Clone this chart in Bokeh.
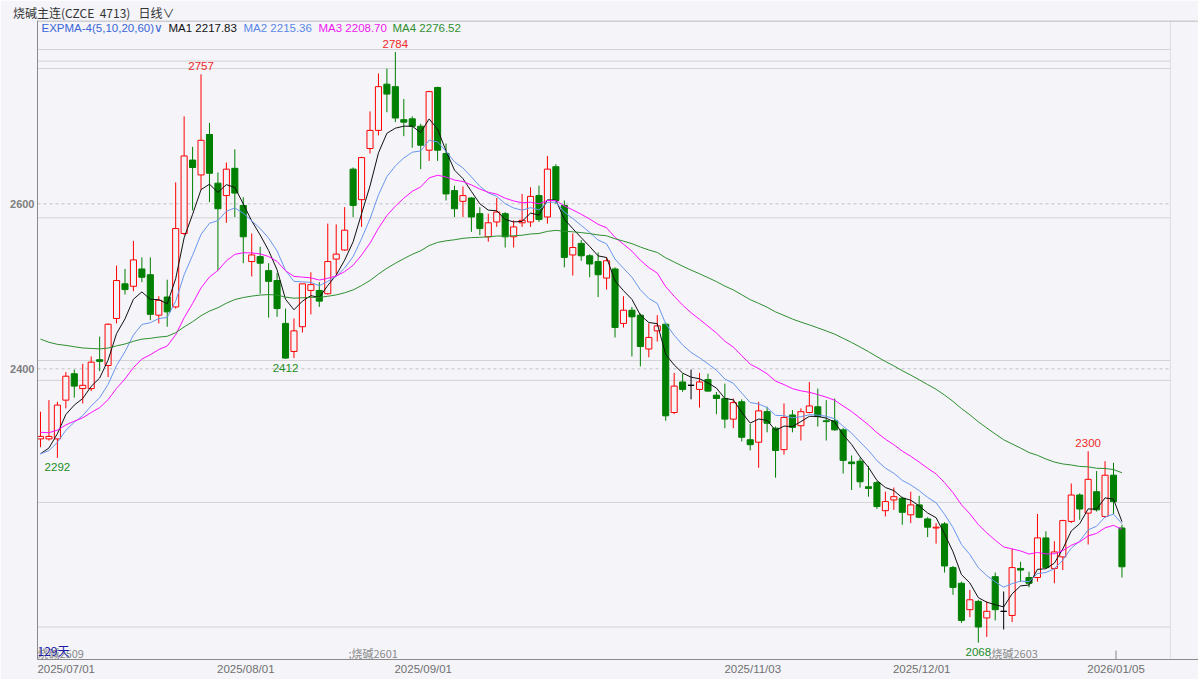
import numpy as np
from bokeh.plotting import figure
from bokeh.models import ColumnDataSource, FixedTicker, Label, Range1d, Span
from bokeh.embed import file_html
from bokeh.resources import INLINE
from bokeh.core.properties import value

# ---------------- data ----------------
opens = [2315, 2315, 2315, 2362, 2394, 2376, 2376, 2411, 2404, 2461,
         2503, 2500, 2521, 2514, 2465, 2487, 2475, 2564, 2653, 2635,
         2684, 2625, 2610, 2643, 2598, 2530, 2536, 2519, 2507, 2455,
         2421, 2451, 2495, 2495, 2491, 2533, 2544, 2642, 2605, 2667,
         2689, 2745, 2742, 2702, 2703, 2694, 2665, 2741, 2661, 2616,
         2603, 2607, 2588, 2560, 2578, 2588, 2560, 2577, 2578, 2610,
         2584, 2645, 2598, 2538, 2552, 2537, 2530, 2510, 2521, 2455,
         2471, 2465, 2424, 2446, 2454, 2347, 2384, 2380, 2375, 2387,
         2368, 2364, 2339, 2360, 2314, 2311, 2348, 2328, 2302, 2344,
         2331, 2347, 2354, 2337, 2337, 2326, 2287, 2288, 2257, 2262,
         2228, 2241, 2243, 2223, 2235, 2218, 2207, 2212, 2159, 2140,
         2108, 2118, 2098, 2148, 2106, 2101, 2158, 2147, 2147, 2195,
         2158, 2172, 2215, 2247, 2225, 2251, 2221, 2271, 2207]
highs = [2348, 2362, 2360, 2396, 2399, 2406, 2415, 2439, 2455, 2525,
         2521, 2555, 2535, 2535, 2488, 2508, 2626, 2706, 2669, 2757,
         2698, 2638, 2650, 2666, 2608, 2564, 2548, 2528, 2516, 2473,
         2461, 2503, 2517, 2505, 2576, 2575, 2596, 2644, 2657, 2712,
         2758, 2764, 2784, 2727, 2706, 2697, 2737, 2742, 2673, 2622,
         2621, 2608, 2596, 2588, 2607, 2590, 2580, 2612, 2620, 2622,
         2658, 2648, 2604, 2564, 2556, 2539, 2541, 2535, 2523, 2488,
         2475, 2467, 2455, 2465, 2456, 2395, 2394, 2399, 2395, 2394,
         2372, 2382, 2364, 2363, 2333, 2360, 2354, 2330, 2358, 2350,
         2352, 2384, 2376, 2362, 2364, 2328, 2295, 2292, 2282, 2264,
         2251, 2256, 2245, 2251, 2246, 2220, 2213, 2214, 2161, 2142,
         2132, 2120, 2118, 2153, 2130, 2182, 2166, 2154, 2224, 2203,
         2191, 2217, 2261, 2249, 2300, 2276, 2288, 2286, 2211]
lows = [2305, 2313, 2292, 2352, 2365, 2358, 2373, 2397, 2390, 2455,
        2490, 2494, 2505, 2459, 2455, 2451, 2473, 2562, 2592, 2617,
        2602, 2519, 2577, 2584, 2528, 2512, 2491, 2462, 2463, 2412,
        2413, 2444, 2466, 2475, 2490, 2515, 2543, 2584, 2572, 2661,
        2683, 2711, 2699, 2682, 2668, 2642, 2652, 2652, 2604, 2584,
        2584, 2566, 2562, 2554, 2572, 2547, 2547, 2572, 2572, 2578,
        2576, 2600, 2523, 2513, 2531, 2511, 2487, 2496, 2438, 2450,
        2415, 2403, 2414, 2433, 2337, 2345, 2372, 2363, 2353, 2372,
        2345, 2328, 2328, 2312, 2301, 2280, 2323, 2268, 2296, 2323,
        2313, 2346, 2330, 2313, 2325, 2273, 2253, 2256, 2245, 2230,
        2221, 2229, 2211, 2213, 2219, 2196, 2188, 2153, 2126, 2092,
        2099, 2068, 2075, 2095, 2084, 2093, 2142, 2135, 2142, 2158,
        2140, 2156, 2213, 2217, 2187, 2227, 2219, 2224, 2147]
closes = [2318, 2318, 2356, 2391, 2379, 2380, 2408, 2409, 2454, 2507,
          2496, 2532, 2511, 2466, 2483, 2469, 2570, 2658, 2644, 2677,
          2637, 2594, 2642, 2613, 2560, 2538, 2528, 2506, 2473, 2413,
          2446, 2503, 2502, 2482, 2530, 2539, 2568, 2598, 2656, 2689,
          2742, 2733, 2704, 2699, 2694, 2671, 2736, 2665, 2612, 2594,
          2610, 2584, 2570, 2577, 2590, 2560, 2572, 2580, 2609, 2581,
          2642, 2604, 2535, 2547, 2537, 2527, 2514, 2531, 2450, 2471,
          2463, 2427, 2438, 2452, 2343, 2379, 2375, 2380, 2384, 2373,
          2364, 2339, 2359, 2317, 2308, 2349, 2334, 2301, 2341, 2329,
          2348, 2355, 2342, 2336, 2326, 2289, 2285, 2263, 2255, 2233,
          2239, 2245, 2226, 2235, 2220, 2208, 2208, 2161, 2135, 2095,
          2120, 2087, 2106, 2108, 2106, 2159, 2156, 2140, 2195, 2159,
          2178, 2216, 2247, 2230, 2266, 2229, 2271, 2239, 2160]

date_labels = ["2025/07/01", "2025/08/01", "2025/09/01", "2025/11/03", "2025/12/01", "2026/01/05"]
date_index = [2, 25, 46, 85, 105, 128]

ema_periods = [5, 10, 20, 60]
ema_start = [2297, 2297, 2323, 2436]          # indicator values at the first visible bar
ema_names = ["MA1", "MA2", "MA3", "MA4"]
ema_values = ["2217.83", "2215.36", "2208.70", "2276.52"]

price_ticks = [2400, 2600]
level_lines = [2787, 2773, 2764, 2583, 2410, 2386, 2238, 2087]

peak_index = [19, 42, 124]
peak_value = [2757, 2784, 2300]
trough_index = [2, 29, 111]
trough_value = [2292, 2412, 2068]

contract_names = ["烧碱2509", ";烧碱2601", ";烧碱2603"]
contract_index = [-0.35, 36.45, 112.2]

NB = "\u00a0"
header_text = f"烧碱主连(CZCE{NB}{NB}4713){NB}{NB}{NB}日线∨"

# ---------------- styling ----------------
BG = "#f4f4f9"
RED = "#ff0000"
GREEN = "#007f00"
EMA_COLORS = ["#111111", "#6a96ee", "#ff10ff", "#2f8f2f"]
LEG_COLORS = ["#111111", "#5a88e6", "#f018f0", "#2f8f2f"]
NUM_FONT = "Liberation Sans"
CJK_FONT = "Noto Sans CJK SC"

W, H = 1198, 679
BL, BT, BB = 37, 20, 20
FH = H - BT - BB          # frame height in px

X0, X1 = -0.355, 137.06
Y0, Y1 = 2047.6, 2822.2
X_PANEL = 133.74          # right edge of the chart area (before the side panel)
PX = (Y1 - Y0) / FH       # price units per pixel


def expma(vals, n, start):
    a = 2.0 / (n + 1)
    out = [float(start)]
    for v in vals[1:]:
        out.append(out[-1] + a * (v - out[-1]))
    return out


o = np.array(opens, float)
h = np.array(highs, float)
l = np.array(lows, float)
c = np.array(closes, float)
idx = np.arange(len(c))

col = np.where(c > o, RED, np.where(c < o, GREEN, "#000000"))
fill = np.where(c > o, BG, np.where(c < o, GREEN, "#000000"))
src = ColumnDataSource(dict(x=idx, h=h, l=l, top=np.maximum(o, c), bottom=np.minimum(o, c),
                            color=col, fill=fill))

p = figure(width=W, height=H, x_range=Range1d(X0, X1), y_range=Range1d(Y0, Y1),
           output_backend="svg", toolbar_location=None, title=header_text,
           min_border_left=BL, min_border_right=0, min_border_top=BT, min_border_bottom=BB,
           background_fill_color=BG, border_fill_color=BG, outline_line_color=None)
p.grid.visible = False

# header (title panel above the frame)
p.title.align = "left"
p.title.offset = -24.5
p.title.standoff = 0
p.title.text_font = CJK_FONT
p.title.text_font_size = "12px"
p.title.text_font_style = "normal"
p.title.text_color = "#333333"

# axes
xt = [round(max(i - 0.7, X0 + 3.4), 2) for i in date_index]
p.xaxis.ticker = FixedTicker(ticks=xt)
p.xaxis.major_label_overrides = {t: s for t, s in zip(xt, date_labels)}
p.xaxis.axis_line_color = "#8a8a8a"
p.xaxis.major_tick_line_color = None
p.xaxis.minor_tick_line_color = None
p.xaxis.major_tick_out = 0
p.xaxis.major_tick_in = 0
p.xaxis.major_label_text_font = NUM_FONT
p.xaxis.major_label_text_font_size = "11.5px"
p.xaxis.major_label_text_color = "#707070"
p.xaxis.major_label_standoff = 3

p.yaxis.ticker = FixedTicker(ticks=price_ticks)
p.yaxis.axis_line_color = "#8a8a8a"
p.yaxis.major_tick_line_color = None
p.yaxis.minor_tick_line_color = None
p.yaxis.major_tick_out = 0
p.yaxis.major_tick_in = 0
p.yaxis.major_label_text_font = NUM_FONT
p.yaxis.major_label_text_font_size = "11px"
p.yaxis.major_label_text_font_style = "bold"
p.yaxis.major_label_text_color = "#7f7f7f"
p.yaxis.major_label_standoff = 3

# horizontal reference lines
p.segment(x0=[X0] * len(level_lines), y0=level_lines, x1=[X_PANEL] * len(level_lines), y1=level_lines,
          line_color="#d3d3d6", line_width=1)
p.segment(x0=[X0] * len(price_ticks), y0=price_ticks, x1=[X_PANEL] * len(price_ticks), y1=price_ticks,
          line_color="#c2c2c6", line_width=1, line_dash="3 3")
p.segment(x0=[X_PANEL], y0=[Y0], x1=[X_PANEL], y1=[Y1], line_color="#dcdce4", line_width=1)
p.add_layout(Span(location=Y1 - 0.6, dimension="width", line_color="#a8a8a8", line_width=1))
# marker of the latest date on the time axis
p.segment(x0=[xt[-1]], y0=[Y0], x1=[xt[-1]], y1=[Y0 + 9 * PX], line_color="#8a8a8a", line_width=1)

# candles
p.segment(x0="x", y0="h", x1="x", y1="l", source=src, line_color="color", line_width=1)
p.vbar(x="x", width=0.72, top="top", bottom="bottom", source=src,
       fill_color="fill", line_color="color", line_width=1)

# EXPMA lines
for n, s0, colr in zip(ema_periods, ema_start, EMA_COLORS):
    p.line(idx, expma(closes, n, s0), line_color=colr, line_width=1)

# high / low marks
p.text(x=peak_index, y=peak_value, text=[str(v) for v in peak_value], text_align="center",
       text_baseline="bottom", y_offset=-4, text_color="#f02828",
       text_font=value(NUM_FONT), text_font_size=value("11.5px"))
p.text(x=trough_index, y=trough_value, text=[str(v) for v in trough_value], text_align="center",
       text_baseline="top", y_offset=5, text_color="#1e8c1e",
       text_font=value(NUM_FONT), text_font_size=value("11.5px"))

# contract roll labels at the bottom
for name, xi in zip(contract_names, contract_index):
    p.add_layout(Label(x=xi, y=7, x_units="data", y_units="screen", text=name,
                       text_font=CJK_FONT, text_font_size="11px", text_color="#8a8a8a",
                       text_baseline="middle", text_align="left"))
p.add_layout(Label(x=0, y=9, x_units="screen", y_units="screen", text="129天",
                   text_font=CJK_FONT, text_font_size="12px", text_color="#1c1ca8",
                   text_baseline="middle", text_align="left"))

# legend row
p.add_layout(Label(x=4, y=FH - 7, x_units="screen", y_units="screen", text="EXPMA-4(5,10,20,60)∨",
                   text_font=NUM_FONT, text_font_size="11.5px", text_color="#3a66d6",
                   text_baseline="middle", text_align="left"))
leg_x = [131, 206, 281, 355]
for lx, nm, vv, lc in zip(leg_x, ema_names, ema_values, LEG_COLORS):
    p.add_layout(Label(x=lx, y=FH - 7, x_units="screen", y_units="screen", text=f"{nm} {vv}",
                       text_font=NUM_FONT, text_font_size="11.5px", text_color=lc,
                       text_baseline="middle", text_align="left"))

open("out.html", "w").write(file_html(p, INLINE))
